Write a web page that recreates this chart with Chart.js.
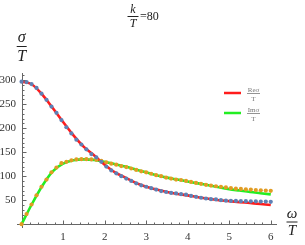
<!DOCTYPE html>
<html>
<head>
<meta charset="utf-8">
<script src="https://cdn.jsdelivr.net/npm/chart.js@4/dist/chart.umd.min.js"></script>
<style>
  html, body { margin: 0; padding: 0; background: #fff; }
  #wrap { width: 305px; height: 245px; }
</style>
</head>
<body>
<div id="wrap"><canvas id="c"></canvas></div>
<script>
// analytic curves (solid lines)
const omegaLine = [0, 0.25, 0.5, 0.75, 1, 1.25, 1.5, 1.75, 2, 2.25, 2.5, 2.75, 3,
  3.25, 3.5, 3.75, 4, 4.25, 4.5, 4.75, 5, 5.25, 5.5, 5.75, 6];
const reLine = [297, 291, 270, 242, 213, 185, 161, 143, 124, 108, 97, 86, 78,
  72, 67, 63, 60, 56, 53, 50, 48, 46, 44, 42, 40];
const imLine = [0, 42, 80, 110, 126, 133, 135, 134, 130, 125, 120, 114, 108,
  102, 97, 93, 89, 85, 81, 77, 73, 70, 67, 64.5, 62];

// numerical points (dots)
const omegaPts = [0, 0.12, 0.24, 0.36, 0.48, 0.6, 0.72, 0.84, 0.96, 1.08, 1.2, 1.32,
  1.44, 1.56, 1.68, 1.8, 1.92, 2.04, 2.16, 2.28, 2.4, 2.52, 2.64, 2.76, 2.88, 3,
  3.12, 3.24, 3.36, 3.48, 3.6, 3.72, 3.84, 3.96, 4.08, 4.2, 4.32, 4.44, 4.56, 4.68,
  4.8, 4.92, 5.04, 5.16, 5.28, 5.4, 5.52, 5.64, 5.76, 5.88, 6];
const rePts = [297, 296, 292, 284, 272, 259, 245, 232, 217, 202, 189, 176,
  166, 156, 146, 139, 130, 120, 112, 106, 100, 95, 90, 85, 81, 78,
  75, 72, 69, 67, 65, 64, 62.5, 61.5, 59, 57, 55, 53.5, 52, 51.5,
  50, 49, 48.5, 48.5, 48, 48, 47.5, 47.5, 47, 47, 46.5];
const imPts = [0, 21, 41, 60, 78, 93, 108, 118, 127, 130, 133, 135,
  135.5, 135.5, 135, 134, 132, 129, 126, 124, 121, 119, 116, 113, 110, 108,
  105, 102, 100, 97, 95, 93, 92, 90, 88, 86, 84, 82, 80.5, 79,
  78, 76.5, 75, 74, 73.5, 72.5, 72, 71, 70.5, 70, 69.5];

const xTicks = [1, 2, 3, 4, 5, 6];
const yTicks = [50, 100, 150, 200, 250, 300];

const serif = '"Liberation Serif", "DejaVu Serif", serif';

function pts(xs, ys) {
  return xs.map((x, i) => ({ x: x, y: ys[i] }));
}

function frac(ctx, top, bottom, cx, y, size, half, gap, color) {
  ctx.fillStyle = color;
  ctx.strokeStyle = color;
  ctx.font = 'italic ' + size + 'px ' + serif;
  ctx.textAlign = 'center';
  ctx.textBaseline = 'alphabetic';
  ctx.fillText(top, cx, y - gap);
  ctx.fillText(bottom, cx, y + gap + size * 0.66);
  ctx.lineWidth = 1;
  ctx.beginPath();
  ctx.moveTo(cx - half, y + 0.5);
  ctx.lineTo(cx + half, y + 0.5);
  ctx.stroke();
}

const mmaAxes = {
  id: 'mmaAxes',
  beforeDatasetsDraw(chart) {
    const ctx = chart.ctx;
    const xs = chart.scales.x, ys = chart.scales.y;
    const a = chart.chartArea;
    const x0 = Math.round(xs.getPixelForValue(0)) + 0.5;
    const y0 = Math.round(ys.getPixelForValue(0)) + 0.5;
    ctx.save();
    ctx.strokeStyle = '#666';
    ctx.lineWidth = 1;
    ctx.beginPath();
    ctx.moveTo(a.left, y0); ctx.lineTo(a.right, y0);
    ctx.moveTo(x0, a.bottom); ctx.lineTo(x0, a.top);
    // x ticks: minor every 0.2, major at labels
    for (let k = 1; k <= 30; k++) {
      const v = k * 0.2;
      const px = Math.round(xs.getPixelForValue(v)) + 0.5;
      const major = k % 5 === 0;
      ctx.moveTo(px, y0); ctx.lineTo(px, y0 - (major ? 4 : 2));
    }
    // y ticks: minor every 10, major every 50
    for (let k = 1; k <= 31; k++) {
      const v = k * 10;
      const py = Math.round(ys.getPixelForValue(v)) + 0.5;
      const major = k % 5 === 0;
      ctx.moveTo(x0, py); ctx.lineTo(x0 + (major ? 4 : 2), py);
    }
    ctx.stroke();
    ctx.restore();
  },
  afterDraw(chart) {
    const ctx = chart.ctx;
    ctx.save();
    // title k/T = 80
    frac(ctx, 'k', 'T', 133, 16, 12, 5.5, 3.5, '#222');
    ctx.font = '12px ' + serif;
    ctx.textAlign = 'left';
    ctx.textBaseline = 'middle';
    ctx.fillText('=80', 140, 17);
    // axis labels
    frac(ctx, '\u03c3', 'T', 21.7, 46, 16, 5, 4, '#222');
    frac(ctx, '\u03c9', 'T', 292, 221.5, 15, 5.5, 4, '#222');
    // legend
    const items = [['Re\u03c3', '#ff1c1c', 93], ['Im\u03c3', '#22ee22', 113]];
    items.forEach(it => {
      ctx.strokeStyle = it[1];
      ctx.lineWidth = 2.5;
      ctx.beginPath();
      ctx.moveTo(224, it[2]); ctx.lineTo(241, it[2]);
      ctx.stroke();
      ctx.fillStyle = '#777';
      ctx.strokeStyle = '#777';
      ctx.font = '7px ' + serif;
      ctx.textAlign = 'center';
      ctx.textBaseline = 'alphabetic';
      ctx.fillText(it[0], 253.5, it[2] - 1.5);
      ctx.fillText('T', 253.5, it[2] + 8);
      ctx.lineWidth = 0.8;
      ctx.beginPath();
      ctx.moveTo(247, it[2] + 0.5); ctx.lineTo(260, it[2] + 0.5);
      ctx.stroke();
    });
    ctx.restore();
  }
};

new Chart(document.getElementById('c'), {
  type: 'scatter',
  data: {
    datasets: [{
      data: pts(omegaPts, rePts),
      showLine: false,
      pointRadius: 2.1,
      pointBorderWidth: 0,
      backgroundColor: '#5e81b5',
      order: 0
    }, {
      data: pts(omegaPts, imPts),
      showLine: false,
      pointRadius: 2.1,
      pointBorderWidth: 0,
      backgroundColor: '#e19c24',
      order: 0
    }, {
      data: pts(omegaLine, reLine),
      showLine: true,
      borderColor: '#ff1c1c',
      borderWidth: 2.6,
      pointRadius: 0,
      cubicInterpolationMode: 'monotone',
      order: 1
    }, {
      data: pts(omegaLine, imLine),
      showLine: true,
      borderColor: '#22ee22',
      borderWidth: 2.6,
      pointRadius: 0,
      cubicInterpolationMode: 'monotone',
      order: 1
    }]
  },
  options: {
    responsive: true,
    maintainAspectRatio: false,
    animation: false,
    layout: { padding: { top: 73, right: 28, left: 0, bottom: 0 } },
    plugins: { legend: { display: false }, tooltip: { enabled: false } },
    scales: {
      x: {
        type: 'linear',
        min: -0.11,
        max: 6.15,
        grid: { display: false, drawTicks: false },
        border: { display: false },
        ticks: { font: { family: serif, size: 11 }, color: '#333', padding: 3, maxRotation: 0 },
        afterBuildTicks: s => { s.ticks = xTicks.map(v => ({ value: v })); },
        afterFit: s => { s.height = 17; }
      },
      y: {
        type: 'linear',
        min: -8,
        max: 315,
        grid: { display: false, drawTicks: false },
        border: { display: false },
        ticks: { font: { family: serif, size: 11 }, color: '#333', padding: 1 },
        afterBuildTicks: s => { s.ticks = yTicks.map(v => ({ value: v })); },
        afterFit: s => { s.width = 17; }
      }
    }
  },
  plugins: [mmaAxes]
});
</script>
</body>
</html>
